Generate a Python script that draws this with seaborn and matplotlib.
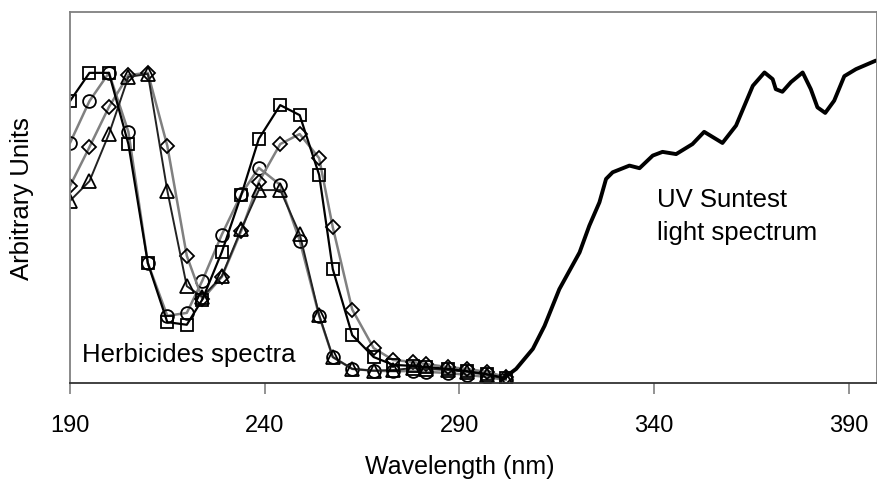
import matplotlib
matplotlib.use("Agg")
import matplotlib.pyplot as plt
import seaborn as sns
import pandas as pd

# Herbicide spectra (sampled wavelengths, nm)
wavelength = [190, 195, 200, 205, 210, 215, 220, 224, 229, 234, 238.5, 244,
              249, 254, 257.5, 262.5, 268, 273, 278, 281.5, 287, 292, 297, 302]
herb_square = [76.0, 83.6, 83.6, 64.4, 32.3, 16.4, 15.7, 22.5, 35.3, 50.7, 65.8, 74.9,
               72.2, 56.1, 30.7, 12.9, 7.0, 4.9, 4.6, 4.3, 3.8, 3.2, 2.4, 1.3]
herb_circle = [64.7, 76.0, 83.6, 67.7, 32.3, 18.1, 18.9, 27.6, 40.0, 50.9, 58.0, 53.4,
               38.4, 18.1, 7.0, 3.8, 3.3, 3.2, 3.2, 3.0, 2.7, 2.2, 1.6, 0.8]
herb_triangle = [49.1, 54.4, 67.1, 82.5, 83.3, 51.8, 26.1, 23.2, 28.8, 41.5, 52.0, 52.0,
                 40.2, 18.3, 7.0, 3.8, 3.3, 3.5, 4.0, 3.8, 3.5, 3.0, 2.2, 1.1]
herb_diamond = [53.1, 63.6, 74.4, 83.0, 83.6, 63.9, 34.3, 22.6, 28.6, 41.0, 54.2, 64.4,
                67.1, 60.6, 42.0, 19.8, 9.4, 6.2, 5.7, 5.1, 4.3, 3.8, 3.0, 1.6]

# UV Suntest lamp spectrum
uv_wavelength = [301.2, 304.6, 308.9, 311.9, 315.7, 320.9, 323.4, 326.0, 327.7, 329.4,
                 333.7, 336.3, 339.7, 342.2, 345.7, 349.9, 352.9, 357.6, 361.1, 365.4,
                 368.4, 370.5, 371.3, 373.0, 375.2, 378.2, 380.3, 382.0, 384.0, 386.3,
                 388.9, 391.9, 397.0]
uv_intensity = [1.1, 3.8, 9.2, 15.4, 25.3, 35.2, 42.4, 48.7, 55.0, 56.8,
                58.6, 57.9, 61.3, 62.3, 61.7, 64.4, 67.7, 64.7, 69.4, 80.1,
                83.7, 81.9, 79.2, 78.5, 81.1, 83.7, 79.2, 74.3, 72.8, 76.1,
                82.7, 84.6, 86.9]

xticks = [190, 240, 290, 340, 390]

sns.set_style("white")
plt.rcParams['font.family'] = ['Liberation Sans', 'DejaVu Sans']
plt.rcParams['text.color'] = 'black'
plt.rcParams['axes.labelcolor'] = 'black'
plt.rcParams['xtick.labelcolor'] = 'black'

fig = plt.figure(figsize=(8.78, 4.81), dpi=100)
ax = fig.add_axes([70 / 878, 97 / 481, 807 / 878, 371 / 481])

herb = pd.DataFrame({"wl": wavelength, "sq": herb_square, "ci": herb_circle,
                     "tr": herb_triangle, "di": herb_diamond})
uv = pd.DataFrame({"wl": uv_wavelength, "I": uv_intensity})

styles = [
    ("ci", "#808080", "o", 9.2, 1.8),
    ("di", "#808080", "D", 7.0, 1.8),
    ("tr", "#222222", "^", 9.8, 1.4),
    ("sq", "#000000", "s", 9.2, 1.6),
]
for col, lc, mk, ms, lw in styles:
    sns.lineplot(data=herb, x="wl", y=col, ax=ax, color=lc, lw=lw,
                 marker=mk, markersize=ms, markerfacecolor="none",
                 markeredgecolor="black", markeredgewidth=1.3,
                 sort=False, estimator=None, legend=False)

sns.lineplot(data=uv, x="wl", y="I", ax=ax, color="black", lw=2.8,
             sort=False, estimator=None, legend=False)

ax.set_xlim(190, 397.3)
ax.set_ylim(0, 100)
ax.set_xticks(xticks)
ax.set_xticklabels([str(t) for t in xticks])
ax.set_yticks([])
ax.tick_params(axis="x", direction="out", length=8, width=1.2, color="#808080",
               labelcolor="black", labelsize=17, pad=14, bottom=True)

for s in ["left", "top", "right"]:
    ax.spines[s].set_color("#808080")
    ax.spines[s].set_linewidth(1.3)
ax.spines["bottom"].set_color("#333333")
ax.spines["bottom"].set_linewidth(1.3)

ax.set_xlabel("Wavelength (nm)", fontsize=18, color="black")
ax.xaxis.set_label_coords((460 - 70) / 808, -(455 - 384) / 371)
ax.set_ylabel("Arbitrary Units", fontsize=18.5, color="black")
ax.yaxis.set_label_coords(-(70 - 34) / 808, 0.5)

ax.text(193, 6.0, "Herbicides spectra", fontsize=18.5, ha="left", va="baseline",
        color="black")
ax.text(340.9, (384 - 206.7) / 3.71, "UV Suntest", fontsize=18.5, ha="left",
        va="baseline", color="black")
ax.text(340.9, (384 - 240) / 3.71, "light spectrum", fontsize=18.5, ha="left",
        va="baseline", color="black")

fig.savefig("out.png", dpi=100)
